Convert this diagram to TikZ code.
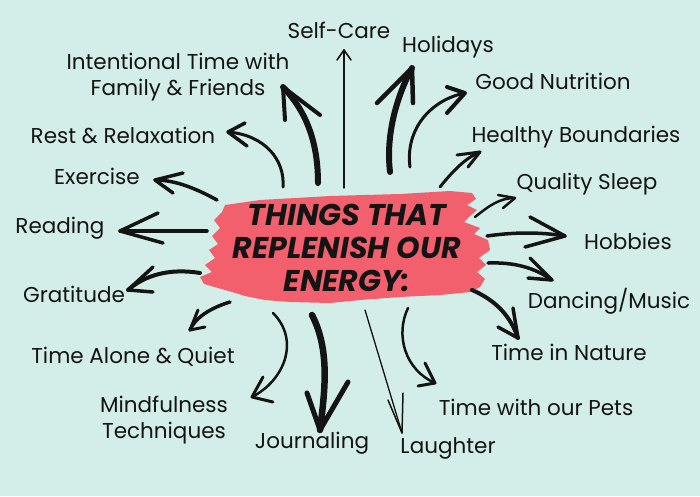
\documentclass[tikz,border=0pt]{standalone}
\usepackage{fontspec}
\setmainfont{Poppins}
\definecolor{bg}{HTML}{D3EEE8}
\definecolor{pinkbrush}{HTML}{F2606E}
\definecolor{ink}{HTML}{141414}
\begin{document}
\begin{tikzpicture}[x=1pt,y=-1pt,
  lbl/.style={font=\fontsize{21.5}{26}\selectfont, text=ink, inner sep=0pt, align=center},
  ttl/.style={font=\fontsize{30}{33}\selectfont\bfseries\itshape, text=ink, inner sep=0pt, align=center},
  brush/.style={draw=ink, line width=#1, line cap=round, line join=round},
  brush/.default=3.5pt]
\fill[bg] (0,0) rectangle (700,496);
\useasboundingbox (0,0) rectangle (700,496);

% pink brush stroke
\fill[pinkbrush] (225,205) -- (260,200) -- (330,196) -- (400,194) -- (450,191) -- (472,193) -- (476,199) -- (467,205) -- (477,210) -- (470,216) -- (464,222) -- (480,228) -- (474,234) -- (488,240) -- (490,250) -- (479,258) -- (486,265) -- (477,272) -- (485,279) -- (480,287) -- (470,292) -- (440,295) -- (400,297) -- (360,300) -- (330,303) -- (290,302) -- (265,300) -- (245,296) -- (232,292) -- (218,288) -- (204,284) -- (200,277) -- (212,272) -- (205,265) -- (215,258) -- (209,250) -- (218,244) -- (212,236) -- (220,228) -- (214,220) -- (222,212) -- cycle;

\node[ttl] (title) at (347,248) {THINGS THAT\\REPLENISH OUR\\ENERGY:};

% labels
\node[lbl] (selfcare) at (339,30) {Self-Care};
\node[lbl] (family) at (178,77) {Intentional Time with\\Family \& Friends};
\node[lbl] (holidays) at (448,47) {Holidays};
\node[lbl] (nutrition) at (553,81) {Good Nutrition};
\node[lbl] (rest) at (123,135) {Rest \& Relaxation};
\node[lbl] (boundaries) at (576,137) {Healthy Boundaries};
\node[lbl] (exercise) at (97,176) {Exercise};
\node[lbl] (sleep) at (587,184) {Quality Sleep};
\node[lbl] (reading) at (60,228) {Reading};
\node[lbl] (hobbies) at (628,241) {Hobbies};
\node[lbl] (gratitude) at (74,294) {Gratitude};
\node[lbl] (dancing) at (609,301) {Dancing/Music};
\node[lbl] (alone) at (133,357) {Time Alone \& Quiet};
\node[lbl] (nature) at (569,352) {Time in Nature};
\node[lbl] (mindful) at (164,420) {Mindfulness\\Techniques};
\node[lbl] (journal) at (312,443) {Journaling};
\node[lbl] (pets) at (536,407) {Time with our Pets};
\node[lbl] (laughter) at (448,448) {Laughter};

% arrow end points
\coordinate (sSelf) at (344,188); \coordinate (tSelf) at (344,50);
\coordinate (sFam) at (318,183); \coordinate (tFam) at (283,87);
\coordinate (sRest) at (283,187); \coordinate (tRest) at (228,132);
\coordinate (sEx) at (217,200); \coordinate (tEx) at (155,180);
\coordinate (sRead) at (207,231); \coordinate (tRead) at (120,231);
\coordinate (sGrat) at (200,273); \coordinate (tGrat) at (128,290);
\coordinate (sAlone) at (230,302); \coordinate (tAlone) at (190,330);
\coordinate (sMind) at (273,313); \coordinate (tMind) at (252,397);
\coordinate (sJour) at (312,315); \coordinate (tJour) at (320,430);
\coordinate (sLau) at (365,310); \coordinate (tLau) at (402,433);
\coordinate (sPets) at (408,308); \coordinate (tPets) at (435,383);
\coordinate (sNat) at (472,290); \coordinate (tNat) at (518,338);
\coordinate (sDan) at (488,263); \coordinate (tDan) at (552,280);
\coordinate (sHob) at (487,236); \coordinate (tHob) at (565,236);
\coordinate (sSleep) at (475,217); \coordinate (tSleep) at (515,198);
\coordinate (sBound) at (440,187); \coordinate (tBound) at (480,152);
\coordinate (sNut) at (410,167); \coordinate (tNut) at (465,93);
\coordinate (sHol) at (390,172); \coordinate (tHol) at (412,68);

% Self-Care (thin)
\draw[brush=1.4pt] (sSelf) -- (tSelf);
\draw[brush=1.6pt] (tSelf) ++(-7,10) -- (tSelf) -- ++(7,10);
% Family (thick)
\draw[brush=6pt] (sFam) .. controls (318,140) and (305,110) .. (tFam);
\draw[brush=4pt] (285,120) -- (tFam) -- (320,115);
% Rest
\draw[brush=3pt] (sRest) .. controls (285,160) and (265,135) .. (tRest);
\draw[brush=3.5pt] (245,123) -- (tRest) -- (247,146);
% Exercise
\draw[brush=3.5pt] (sEx) .. controls (195,188) and (175,180) .. (tEx);
\draw[brush=3.5pt] (183,173) -- (tEx) -- (173,193);
% Reading
\draw[brush=3.5pt] (sRead) -- (tRead);
\draw[brush=3.5pt] (158,213) -- (tRead) -- (163,243);
% Gratitude
\draw[brush=4pt] (sGrat) .. controls (170,268) and (145,275) .. (tGrat);
\draw[brush=3.5pt] (153,267) -- (tGrat) -- (153,292);
% Time Alone
\draw[brush=3.5pt] (sAlone) .. controls (210,308) and (195,318) .. (tAlone);
\draw[brush=3pt] (198,310) -- (tAlone) -- (205,327);
% Mindfulness
\draw[brush=2.5pt] (sMind) .. controls (300,340) and (285,380) .. (tMind);
\draw[brush=3pt] (263,377) -- (tMind) -- (273,402);
% Journaling (thick)
\draw[brush=6.5pt] (sJour) .. controls (330,350) and (325,390) .. (tJour);
\draw[brush=5pt] (307,393) -- (tJour) -- (348,382);
% Laughter (thin)
\draw[brush=1.3pt] (sLau) -- (tLau);
\draw[brush=1.5pt] (388,400) -- (tLau) -- (403,393);
% Pets
\draw[brush=2.5pt] (sPets) .. controls (395,335) and (405,370) .. (tPets);
\draw[brush=3pt] (425,363) -- (tPets) -- (418,386);
% Nature
\draw[brush=4pt] (sNat) .. controls (495,300) and (510,315) .. (tNat);
\draw[brush=3.5pt] (513,308) -- (tNat) -- (498,327);
% Dancing
\draw[brush=3.5pt] (sDan) .. controls (515,262) and (535,268) .. (tDan);
\draw[brush=3.5pt] (530,258) -- (tDan) -- (528,278);
% Hobbies
\draw[brush=3.5pt] (sHob) .. controls (515,232) and (540,232) .. (tHob);
\draw[brush=3.5pt] (530,217) -- (tHob) -- (525,247);
% Quality Sleep
\draw[brush=2.5pt] (sSleep) .. controls (490,205) and (500,198) .. (tSleep);
\draw[brush=2.5pt] (498,195) -- (tSleep) -- (503,208);
% Boundaries
\draw[brush=3pt] (sBound) .. controls (452,172) and (465,158) .. (tBound);
\draw[brush=3pt] (457,155) -- (tBound) -- (468,167);
% Good Nutrition
\draw[brush=3pt] (sNut) .. controls (405,130) and (430,100) .. (tNut);
\draw[brush=4pt] (447,87) -- (tNut) -- (447,113);
% Holidays (thick)
\draw[brush=6pt] (sHol) .. controls (385,130) and (400,90) .. (tHol);
\draw[brush=4.5pt] (377,103) -- (tHol) -- (413,103);
\end{tikzpicture}
\end{document}
